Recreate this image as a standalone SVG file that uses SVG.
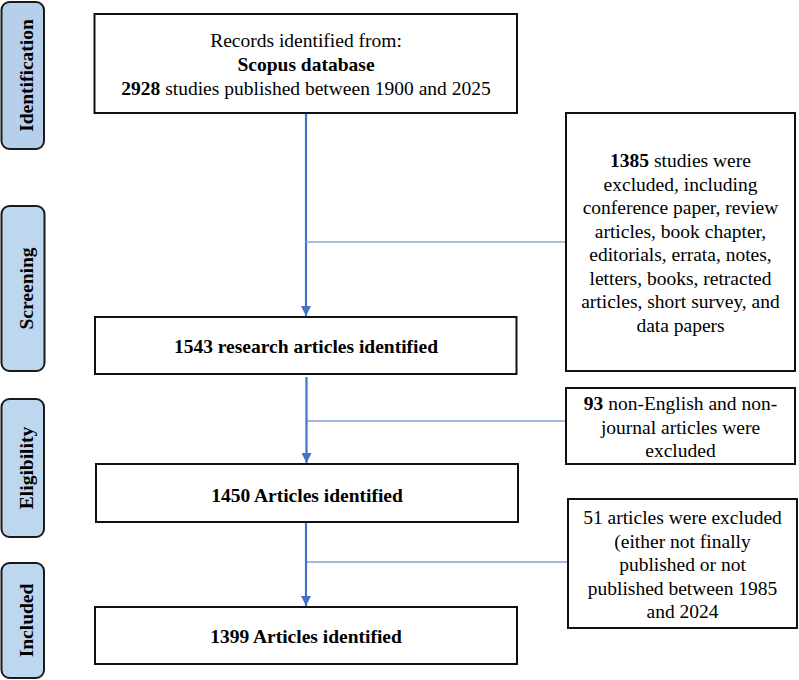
<svg xmlns="http://www.w3.org/2000/svg" width="799" height="680" viewBox="0 0 799 680" font-family="Liberation Serif, Times New Roman, serif" font-size="19.5">
<defs>
<style>
.phase{fill:#bdd7ee;stroke:#1a1a1a;stroke-width:2}
.box{fill:#ffffff;stroke:#111111;stroke-width:2}
.c{text-anchor:middle}
.b{font-weight:bold}
.lab{font-weight:bold;text-anchor:middle}
.flow{stroke:#4472c4;stroke-width:2.2;fill:none}
.side{stroke:#4472c4;stroke-width:1.2;fill:none}
.side1{stroke:#8eaadb;stroke-width:1.5;fill:none}
</style>
<marker id="ah" viewBox="0 0 10 10" refX="10" refY="5" markerWidth="10" markerHeight="10" markerUnits="userSpaceOnUse" orient="auto">
<path d="M0,0 L10,5 L0,10 z" fill="#4472c4"/>
</marker>
</defs>

<g id="phase-identification">
<rect class="phase" x="1.5" y="2" width="42.5" height="147" rx="8" style="fill:#b6d0ec"/>
<text class="lab" font-family="Liberation Serif, serif" transform="translate(32.5,75.5) rotate(-90)">Identification</text>
</g>
<g id="phase-screening">
<rect class="phase" x="1.5" y="206" width="43" height="165" rx="8"/>
<text class="lab" font-family="Liberation Serif, serif" transform="translate(32.5,288.5) rotate(-90)">Screening</text>
</g>
<g id="phase-eligibility">
<rect class="phase" x="1.5" y="399" width="42.5" height="138" rx="8"/>
<text class="lab" font-family="Liberation Serif, serif" transform="translate(32.5,468) rotate(-90)">Eligibility</text>
</g>
<g id="phase-included">
<rect class="phase" x="1.5" y="563" width="42.5" height="115" rx="8"/>
<text class="lab" font-family="Liberation Serif, serif" transform="translate(32.5,620.5) rotate(-90)">Included</text>
</g>

<g id="connectors">
<line class="flow" x1="306" y1="113" x2="306" y2="316" marker-end="url(#ah)"/>
<line class="side1" x1="306" y1="242" x2="566" y2="242"/>
<line class="flow" x1="306.5" y1="377" x2="306.5" y2="463" marker-end="url(#ah)"/>
<line class="side" x1="306.5" y1="421" x2="566" y2="421"/>
<line class="flow" x1="306" y1="522" x2="306" y2="606" marker-end="url(#ah)"/>
<line class="side" x1="306" y1="562" x2="568" y2="562"/>
</g>

<g id="node-records" font-family="Liberation Serif, serif">
<rect class="box" x="94.5" y="14" width="422.5" height="99"/>
<text class="c" x="306" y="47">Records identified from:</text>
<text class="c b" x="306" y="71">Scopus database</text>
<text class="c" x="306" y="94.5"><tspan class="b">2928</tspan> studies published between 1900 and 2025</text>
</g>

<g id="node-1543" font-family="Liberation Serif, serif">
<rect class="box" x="95" y="317" width="421.5" height="57"/>
<text class="c b" x="306" y="353">1543 research articles identified</text>
</g>

<g id="node-1450" font-family="Liberation Serif, serif">
<rect class="box" x="96" y="464" width="422" height="58"/>
<text class="c b" x="307" y="502">1450 Articles identified</text>
</g>

<g id="node-1399" font-family="Liberation Serif, serif">
<rect class="box" x="95" y="607" width="422" height="57"/>
<text class="c b" x="306" y="643">1399 Articles identified</text>
</g>

<g id="node-excl-1385" font-family="Liberation Serif, serif">
<rect class="box" x="566" y="113" width="229" height="258"/>
<text class="c" x="680.5" y="167"><tspan class="b">1385</tspan> studies were</text>
<text class="c" x="680.5" y="190.5">excluded, including</text>
<text class="c" x="680.5" y="214">conference paper, review</text>
<text class="c" x="680.5" y="237.5">articles, book chapter,</text>
<text class="c" x="680.5" y="261">editorials, errata, notes,</text>
<text class="c" x="680.5" y="284.5">letters, books, retracted</text>
<text class="c" x="680.5" y="308">articles, short survey, and</text>
<text class="c" x="680.5" y="331.5">data papers</text>
</g>

<g id="node-excl-93" font-family="Liberation Serif, serif">
<rect class="box" x="566" y="388" width="229" height="76"/>
<text class="c" x="680.5" y="410"><tspan class="b">93</tspan> non-English and non-</text>
<text class="c" x="680.5" y="433.5">journal articles were</text>
<text class="c" x="680.5" y="457">excluded</text>
</g>

<g id="node-excl-51" font-family="Liberation Serif, serif">
<rect class="box" x="568" y="499" width="229" height="129"/>
<text class="c" x="682.5" y="524">51 articles were excluded</text>
<text class="c" x="682.5" y="547.5">(either not finally</text>
<text class="c" x="682.5" y="571">published or not</text>
<text class="c" x="682.5" y="594.5">published between 1985</text>
<text class="c" x="682.5" y="618">and 2024</text>
</g>
</svg>
